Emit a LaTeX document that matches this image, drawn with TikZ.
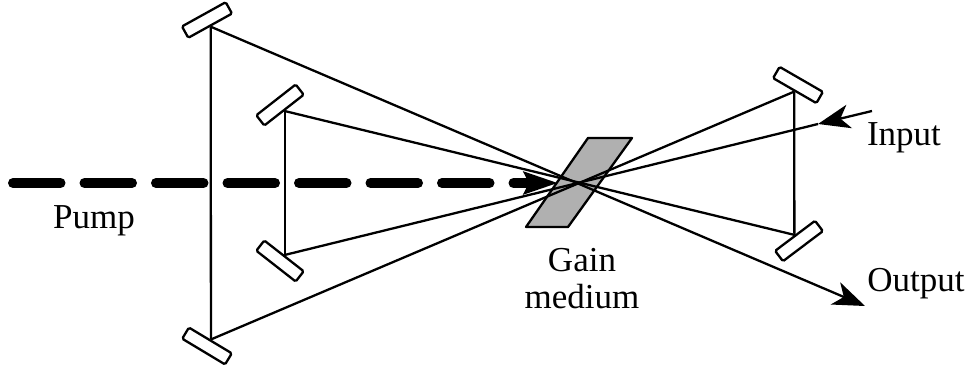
\documentclass[tikz,border=0pt]{standalone}
\usepackage{fontspec}
\setmainfont{Liberation Serif}
\usetikzlibrary{arrows.meta,positioning}
\definecolor{GainGray}{HTML}{B0B0B0}

\begin{document}
\begin{tikzpicture}[x=1pt,y=-1pt,
  mirror/.style={rectangle,rounded corners=1.5pt,draw=black,fill=white,line width=2.3pt,
                 inner sep=0pt,minimum width=50pt,minimum height=13pt},
  beam/.style={line width=2.3pt,black},
  arr/.style={-{Stealth[length=32pt,width=24pt,inset=9pt]},line width=2.3pt,black},
  pumparr/.style={-{Stealth[length=34pt,width=22pt,inset=5pt]},line width=10pt,
                  line cap=round,dash pattern=on 47.5pt off 24pt,black},
  lbl/.style={inner sep=0pt,align=center,font=\fontsize{35}{37}\selectfont}]
\useasboundingbox (0,0) rectangle (970,370);
% gain medium goes under the beams
\draw[line width=2.3pt,line join=round,fill=GainGray] (588,138) -- (632,138) -- (568,227) -- (526,227) -- cycle;
% pump
\coordinate (pumpa) at (13,183);
\coordinate (pumpb) at (558,183);
\draw[pumparr] (pumpa) -- (pumpb);
% mirrors
\node[mirror,rotate=29] (mo1) at (207,20) {};
\node[mirror,rotate=38] (mi1) at (280,105) {};
\node[mirror,rotate=-38] (mi2) at (280,261) {};
\node[mirror,rotate=-31] (mo2) at (207,346) {};
\node[mirror,rotate=-30] (mr1) at (798,85) {};
\node[mirror,rotate=37] (mr2) at (799,241) {};
% free ends
\coordinate (inb) at (872,111);
\coordinate (ina) at (818,124);
\coordinate (outb) at (865,306);
% beam path
\draw[arr] (inb) -- (ina);
\draw[beam] (ina) -- (mi2.north);
\draw[beam] (mi2.north) -- (mi1.south);
\draw[beam] (mi1.south) -- (mr2.north);
\draw[beam] (mr2.north) -- (mr1.south);
\draw[beam] (mr1.south) -- (mo2.north);
\draw[beam] (mo2.north) -- (mo1.south);
\draw[arr] (mo1.south) -- (outb);
% labels
\node[lbl] (pump) at (94,221) {Pump};
\node[lbl] (input) at (904,138) {Input};
\node[lbl] (output) at (916,284) {Output};
\node[lbl] (gain) at (582,279) {Gain\\medium};
\end{tikzpicture}
\end{document}
